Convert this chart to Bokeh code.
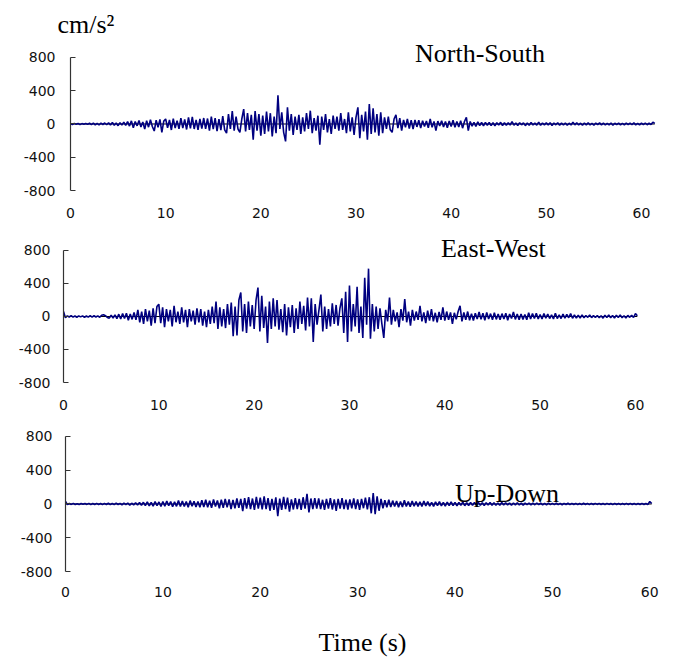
import numpy as np
from bokeh.plotting import figure
from bokeh.layouts import column
from bokeh.models import FixedTicker, Label, Title
from bokeh.embed import file_html
from bokeh.resources import INLINE

# ---------------- data (sampled every DT seconds, cm/s^2) ----------------
DT = 0.2

north_south = [
    5, -6, 8, -4, 6, -8, 5, -3, 7, -5,
    9, -7, 11, -10, 8, -12, 10, -6, 12, -9,
    14, -11, 18, -15, 12, -20, 16, -13, 22, -17,
    28, -25, 38, -45, 30, -22, 42, -35, 25, -62,
    40, -38, 52, -30, -85, 45, -40, 55, -100, 35,
    60, -45, 48, -72, 65, -50, 40, -58, 70, -48,
    55, -66, 80, -52, 85, -60, 48, -70, 62, -55,
    72, -58, 66, -80, 90, -62, 70, -85, 58, -75,
    95, -70, -110, 120, -60, 155, -80, 90, -60, -100,
    60, 180, -90, 130, -70, 110, -190, 155, -80, 120,
    -140, 100, -120, 150, -90, 130, -150, 90, -110, 345,
    -60, 140, -100, -210, 200, -80, 120, -130, 90, -70,
    110, -120, 80, -90, 130, -60, 160, -110, 70, -80,
    100, -250, 90, -70, 120, -100, 60, -120, 100, -60,
    90, -80, 130, -70, 60, -110, 140, -90, 80, -130,
    80, 200, -170, 110, -90, 150, -190, 240, -120, 190,
    -100, 120, -140, 140, -110, 80, -60, 90, -70, -100,
    60, 110, -50, 70, -80, 50, -40, 60, -55, 45,
    -60, 50, -35, 45, -50, 40, -30, 35, -45, 60,
    -40, 30, -80, 35, -25, 40, -35, 30, -45, 35,
    -30, 45, -40, 30, -35, 40, -50, 30, 80, -80,
    30, -25, 20, -30, 25, -20, 18, -22, 20, -15,
    18, -20, 15, -22, 16, -12, 20, -18, 14, -16,
    15, -12, 28, -15, 12, -18, 16, -10, 14, -20,
    12, -15, 18, -12, 10, -14, 22, -16, 12, -10,
    14, -12, 16, -18, 12, -10, 15, -14, 10, -12,
    12, -16, 10, -12, 20, -10, 14, -12, 10, -15,
    12, -10, 14, -12, 9, -15, 11, -8, 13, -10,
    10, -12, 8, -10, 12, -14, 9, -8, 11, -10,
    9, -11, 12, -8, 10, -9, 13, -10, 8, -11,
    10, -8, 12, -9, 9, -7, 22, 8,
]

east_west = [
    60, -15, 8, -6, 10, -8, 6, -9, 7, -5,
    8, -10, 6, -8, 10, -7, 9, -6, 8, -10,
    15, 22, 10, -12, -20, 15, -18, 20, -25, 28,
    -30, 35, -25, 40, -45, 30, -35, 50, -40, 80,
    -70, 60, -90, 90, -60, 70, -110, 100, -80, 120,
    150, -80, 110, -130, 90, -60, 80, -120, 130, -70,
    60, -90, 110, -70, 80, -130, 90, -60, 70, -100,
    100, -70, 90, -110, 60, -130, 80, -90, 120, -80,
    180, -150, 110, -120, 90, -140, 150, -100, 170, -240,
    120, -230, 200, 290, -180, 150, -200, 180, -120, 140,
    -150, 200, 350, -180, 250, -140, 120, -320, 180, -150,
    220, -120, 200, -160, 90, -190, 150, -230, 110, -130,
    140, -200, 100, -150, 180, -90, 130, -170, 230, -120,
    220, -310, 150, -100, 80, 265, -180, 120, -150, 90,
    -120, 160, -90, 140, -110, 100, 220, -200, 300, -310,
    375, -180, 150, -120, 360, -200, 120, -260, 470, -100,
    580, -270, 150, -180, 120, -150, 100, -90, -260, 80,
    -60, 230, -100, 80, -60, 50, -130, 90, -50, 210,
    -70, 60, -110, 80, -50, 60, -40, 130, -60, 50,
    -80, 70, -50, 90, -60, 45, -70, 55, -40, 110,
    -50, 60, -40, 50, -90, 45, -35, 60, 130, -60,
    50, -40, 60, -45, 35, -50, 40, -30, 55, -35,
    40, -45, 50, -30, 35, -40, 45, -35, 30, -40,
    35, -30, 40, -45, 30, -25, 55, -35, 30, -40,
    30, -35, 25, -40, 45, -30, 35, -25, 40, -30,
    25, -30, 35, -20, 30, -25, 20, -30, 40, -25,
    20, -25, 30, -20, 25, -15, 35, -22, 18, -20,
    15, -18, 20, -15, 12, -10, 18, -14, 10, -12,
    12, -15, 10, -20, 15, -12, 18, -16, 12, -18,
    15, -12, 20, -15, 10, -18, 14, -10, 16, -12,
    35, 10,
]

up_down = [
    30, -8, 6, -5, 8, -6, 4, -7, 5, -4,
    6, -5, 8, -7, 5, -6, 7, -5, 6, -8,
    7, -6, 9, -8, 6, -7, 10, -6, 8, -9,
    10, -8, 12, -14, 9, -10, 15, -12, 18, -15,
    20, -18, 25, -22, 18, -25, 28, -20, 24, -30,
    30, -25, 35, -20, 28, -32, 25, -28, 40, -30,
    35, -30, 28, -38, 40, -25, 32, -35, 30, -40,
    45, -35, 50, -40, 38, -45, 55, -30, 42, -50,
    50, -45, 60, -40, 55, -60, 48, -52, 65, -45,
    60, -85, 70, -55, 80, -60, 65, -70, 85, -55,
    75, -65, 90, -60, 70, -80, 60, -70, 80, -145,
    65, -70, 85, -60, 75, -90, 55, -65, 70, -60,
    60, -70, 80, -55, 120, -100, 65, -60, 70, -55,
    65, -60, 50, -70, 60, -55, 70, -65, 55, -80,
    60, -55, 70, -60, 50, -65, 55, -50, 65, -60,
    55, -70, 60, -50, 75, -65, 80, -110, 130, -120,
    90, -80, 60, -50, 45, -40, 50, -35, 40, -30,
    35, -40, 30, -35, 45, -30, 28, -32, 35, -25,
    30, -28, 25, -30, 35, -22, 28, -25, 20, -28,
    25, -20, 28, -22, 18, -25, 22, -18, 25, -20,
    20, -22, 18, -15, 22, -20, 15, -18, 20, -16,
    18, -15, 20, -16, 14, -18, 16, -12, 18, -15,
    15, -14, 12, -16, 18, -12, 14, -10, 12, -14,
    12, -10, 14, -12, 10, -13, 11, -9, 12, -10,
    10, -9, 12, -8, 9, -10, 8, -9, 10, -8,
    8, -7, 9, -8, 7, -9, 8, -6, 9, -7,
    8, -6, 7, -8, 6, -7, 9, -6, 7, -8,
    7, -6, 8, -5, 7, -6, 6, -7, 8, -5,
    6, -7, 8, -6, 5, -7, 6, -5, 7, -6,
    7, -5, 6, -7, 5, -6, 7, -5, 6, -7,
    30, 5,
]

y_ticks = [-800, -400, 0, 400, 800]
y_tick_labels = ["-800", "-400", "0", "400", "800"]
x_ticks = [0, 10, 20, 30, 40, 50, 60]
x_tick_labels = ["0", "10", "20", "30", "40", "50", "60"]
titles = ["North-South", "East-West", "Up-Down"]
unit_label = "cm/s²"
time_label = "Time (s)"

# ---------------- styling / layout ----------------
TRACE = "#000080"
TICK_FONT = "DejaVu Sans"
TITLE_FONT = "Liberation Serif"
FIG_W = 668


def panel(values, title, height, left, right, top, bottom, x_end, y_top, title_xy,
          ylab_standoff, xlab_standoff):
    t = np.arange(len(values)) * DT
    p = figure(width=FIG_W, height=height, x_range=(0, x_end), y_range=(-800, y_top),
               output_backend="svg", toolbar_location=None,
               min_border_left=left, min_border_right=right,
               min_border_top=top, min_border_bottom=bottom)
    p.outline_line_color = None
    p.grid.visible = False
    p.background_fill_color = "white"
    p.border_fill_color = "white"

    p.yaxis.bounds = (-800, 800)
    p.yaxis.ticker = FixedTicker(ticks=y_ticks)
    p.yaxis.major_label_overrides = dict(zip(y_ticks, y_tick_labels))
    p.yaxis.axis_line_color = "#333333"
    p.yaxis.axis_line_width = 1.2
    p.yaxis.major_tick_line_color = "#333333"
    p.yaxis.major_tick_in = 5
    p.yaxis.major_tick_out = 0
    p.yaxis.minor_tick_line_color = None
    p.yaxis.major_label_standoff = ylab_standoff
    p.yaxis.major_label_text_font = TICK_FONT
    p.yaxis.major_label_text_font_size = "14px"
    p.yaxis.major_label_text_color = "#111111"

    p.xaxis.ticker = FixedTicker(ticks=x_ticks)
    p.xaxis.major_label_overrides = dict(zip(x_ticks, x_tick_labels))
    p.xaxis.axis_line_color = None
    p.xaxis.major_tick_line_color = None
    p.xaxis.minor_tick_line_color = None
    p.xaxis.major_label_standoff = xlab_standoff
    p.xaxis.major_label_text_font = TICK_FONT
    p.xaxis.major_label_text_font_size = "14px"
    p.xaxis.major_label_text_color = "#111111"

    # zero axis line across the record, then the trace on top
    p.segment(x0=[t[0]], x1=[t[-1]], y0=[0], y1=[0], line_color="black", line_width=1)
    p.line(t, values, line_color=TRACE, line_width=1.6)

    p.add_layout(Label(x=title_xy[0], y=title_xy[1], text=title,
                       text_font=TITLE_FONT, text_font_size="26px",
                       text_color="black", text_baseline="alphabetic"))
    return p


p1 = panel(north_south, titles[0], 225, 70, 8, 40, 35, 62, 1004.5, (36.2, 848), 15, 11)
p2 = panel(east_west, titles[1], 195, 63, 14, 0, 38, 62, 1103.0, (39.6, 824), 13, 11)
p3 = panel(up_down, titles[2], 239, 65, 9, 0, 88, 61, 989.6, (40.0, 120), 13, 9)

p1.add_layout(Title(text=unit_label, align="left", offset=-13, vertical_align="bottom",
                    standoff=4, text_font=TITLE_FONT, text_font_size="26px",
                    text_font_style="normal", text_color="black"), "above")

p3.xaxis.axis_label = time_label
p3.xaxis.axis_label_text_font = TITLE_FONT
p3.xaxis.axis_label_text_font_size = "26px"
p3.xaxis.axis_label_text_font_style = "normal"
p3.xaxis.axis_label_text_color = "black"
p3.xaxis.axis_label_standoff = 28

layout = column(column(p1), column(p2), column(p3), spacing=0)

open("out.html", "w").write(file_html(layout, INLINE))
